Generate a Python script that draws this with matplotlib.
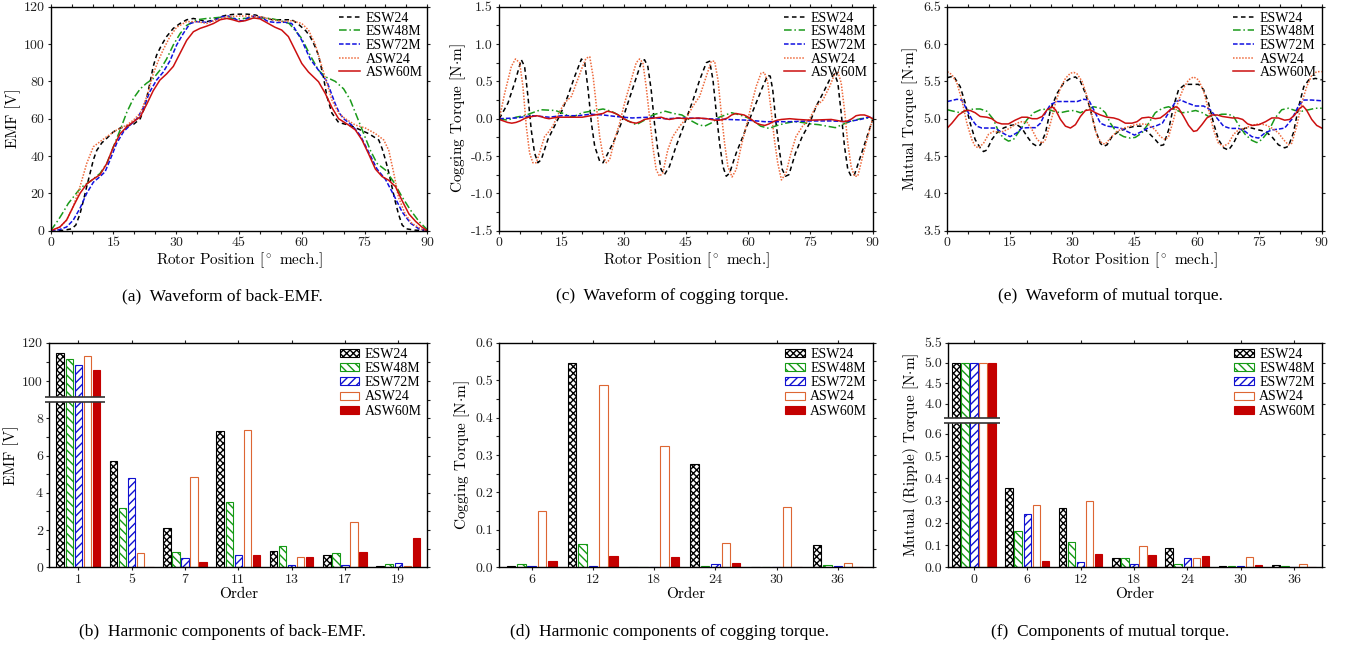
import numpy as np
import matplotlib
matplotlib.use('Agg')
import matplotlib.pyplot as plt
from matplotlib.patches import Rectangle
from matplotlib.ticker import FormatStrFormatter, MultipleLocator

plt.rcParams['font.family'] = 'cmr10'
plt.rcParams['mathtext.fontset'] = 'cm'
plt.rcParams['axes.unicode_minus'] = False
plt.rcParams['axes.formatter.use_mathtext'] = True
plt.rcParams['hatch.linewidth'] = 1.0

SERIES = ['ESW24', 'ESW48M', 'ESW72M', 'ASW24', 'ASW60M']

# ---- back-EMF waveforms [V] vs rotor position [deg mech.]
emf_esw24_pos = [0, 3, 5, 6, 7, 7.8, 8.6, 9.4, 10.2, 11, 12.2, 13.4, 15, 16.6, 18.2, 19.8, 21.4, 22.2, 23, 23.7,
                 24.5, 25.3, 26.5, 27.7, 29.3, 30.9, 32.5, 34.1, 35.7, 37.3, 38.9, 40.5, 42.1, 43.7, 45, 47, 49, 51, 53, 55,
                 57.6, 59, 60, 61, 62, 63, 64, 64.6, 65.2, 66, 67.2, 68.8, 70.5, 72, 74, 76, 78.4, 79.2, 80, 80.8,
                 81.5, 82.3, 83.1, 84, 85, 87, 90]
emf_esw24_val = [0, 0.2, 1, 3, 9, 16, 23.6, 30.7, 38, 43, 47, 49.5, 53, 55, 56, 57, 60, 64.6, 71.8, 79,
                 88, 94, 99.5, 104, 108.4, 111, 113, 113.7, 112.9, 112, 112.9, 114.6, 115.5, 115.9, 116, 116, 115.5, 114, 113, 113,
                 113, 111, 109, 107, 104, 99.5, 94, 88, 82, 72, 63, 58, 57, 56, 54, 52, 48.6, 44, 38, 31,
                 24, 16, 9, 3, 1, 0.3, 0]
emf_esw48m_pos = [0, 1.8, 3, 4.2, 5.4, 6.6, 7.8, 9.8, 11.8, 13.4, 15, 16.6, 18.2, 19.8, 21.4, 22.9, 24.5, 26.1, 27.7, 29.3,
                  30.9, 32.5, 34.9, 37.3, 40.5, 43.7, 45, 48, 51, 53, 55, 57, 60, 62, 64, 65.6, 68, 70, 71.6, 73.2,
                  74.8, 76.4, 78, 80, 82, 84, 86, 88, 90]
emf_esw48m_val = [0, 5.7, 10, 14.6, 18, 21.4, 24, 27, 30.7, 36, 45, 54, 63.5, 71, 76, 79, 81.5, 86, 92, 99.5,
                  105.5, 110, 113, 113.7, 114.3, 113.7, 113.5, 114, 114, 113.5, 112.5, 111, 103, 94, 86, 82.5, 80, 76, 70, 61,
                  52, 43, 36, 32.5, 26, 18, 11, 5, 0.5]
emf_esw72m_pos = [0, 2, 3.8, 5.4, 7, 8.6, 10.2, 11.8, 13, 14.2, 15.8, 17.4, 19, 20.6, 22.2, 23.7, 25.3, 26.9, 28.5, 30.1,
                  31.7, 33.3, 34.9, 37.3, 38.9, 40.9, 42.5, 44, 45, 46, 47.5, 49, 50.5, 52, 54, 56, 57.6, 60, 62, 64,
                  66, 67, 68, 69, 70, 72, 74, 76, 78, 80, 82, 84, 86, 88, 90]
emf_esw72m_val = [0, 0.5, 2, 5.7, 12, 20, 26, 29, 31.6, 38, 47, 53, 56.6, 60, 66, 74.5, 80.7, 85, 91, 99.5,
                  105.7, 111, 112, 111.6, 112.5, 114.6, 115, 113.5, 112.5, 112.5, 114.5, 115, 114, 112, 111.5, 111.7, 111, 102, 92, 86,
                  80, 74, 68, 63, 60, 56.5, 51, 42, 33, 27.5, 19, 10, 4, 1, 0]
emf_asw24_pos = [0, 2, 3.8, 5.4, 7, 8.6, 10.2, 11.8, 13.4, 15.8, 18.2, 19.8, 21.4, 23, 24.5, 25.7, 26.9, 28.5, 30.1, 32.5,
                 34.9, 37.3, 39.7, 42.1, 45, 48, 50.5, 53, 55.5, 57.6, 60, 61.6, 63.2, 64.4, 65.6, 67.2, 68.8, 70.4, 72.8, 75.2,
                 77.6, 79.6, 80.8, 82, 83.1, 84.7, 86.3, 88.7, 90]
emf_asw24_val = [0, 1.5, 5.7, 13, 23.6, 36, 45, 47.7, 50.4, 54, 56.6, 59.3, 63, 72, 84, 91, 97, 104, 109, 112,
                 112, 111, 113, 114.6, 115, 115, 114.5, 113, 112, 112.5, 111, 107.5, 100, 91, 82, 70, 63, 60, 56.6, 55,
                 52, 48.6, 43, 30.7, 18, 9, 4, 0.7, 0]
emf_asw60m_pos = [0, 2.2, 3.8, 5.4, 7, 8.6, 10.2, 11.8, 13.4, 15, 16.6, 18.2, 19.8, 21.4, 23, 24.5, 26.1, 27.7, 29.3, 30.9,
                  32.5, 34.1, 35.7, 37.3, 38.9, 40.5, 42.1, 43.5, 45, 46.5, 48.5, 50, 52, 53.6, 55.2, 56.8, 58.4, 60, 61.6, 64,
                  65.6, 67.2, 68.8, 71.2, 72.8, 74.4, 76, 77.6, 79.2, 80.8, 82.4, 84, 85.6, 87.2, 88.7, 90]
emf_asw60m_val = [0, 2, 5.7, 13, 20, 25, 27.7, 30, 36, 45, 52, 55.7, 58.4, 61, 68, 75, 80.7, 84, 88, 95,
                  102, 106.6, 108.4, 109.6, 111, 113, 113.7, 113, 112, 112.5, 114, 113.5, 111, 109, 107.5, 104, 96.8, 89.6, 85, 79.8,
                  73.6, 66, 60, 56.6, 54, 48.6, 41, 33, 29, 27, 23.6, 16, 9, 5, 2, 0]

# ---- cogging torque waveforms [N.m]
cog_esw24_pos = [0, 2.1, 3.7, 5.3, 6.1, 6.9, 7.7, 8.5, 9.3, 10.1, 11.7, 13.3, 14.9, 16.5, 18.2, 19.8, 20.6, 21.4, 22.2, 23,
                 24.2, 25, 26.2, 27.8, 29.4, 31, 32.6, 34.2, 35, 35.8, 36.6, 37.4, 38.2, 39, 39.8, 41, 42.6, 44.3, 45, 46.7,
                 48.3, 49.9, 50.7, 51.5, 52.3, 53.1, 53.9, 54.7, 55.5, 57.1, 58.7, 60.3, 61.9, 63.5, 64.7, 65.3, 65.9, 66.7, 67.5, 68.2,
                 69, 69.8, 71.4, 73, 74.8, 76.4, 78, 79.6, 80.8, 81.6, 82.4, 83.2, 84, 84.8, 85.6, 86.8, 88.4, 90]
cog_esw24_val = [0, 0.21, 0.48, 0.79, 0.7, 0.3, -0.15, -0.46, -0.59, -0.55, -0.28, -0.1, 0.08, 0.3, 0.57, 0.8, 0.75, 0.39, -0.06, -0.37,
                 -0.57, -0.59, -0.46, -0.28, -0.06, 0.21, 0.48, 0.75, 0.79, 0.7, 0.39, -0.06, -0.42, -0.68, -0.75, -0.64, -0.37, -0.12, -0.01, 0.25,
                 0.52, 0.75, 0.77, 0.52, 0.08, -0.33, -0.64, -0.77, -0.73, -0.46, -0.24, -0.01, 0.21, 0.43, 0.58, 0.57, 0.39, -0.06, -0.42, -0.68,
                 -0.77, -0.75, -0.46, -0.24, -0.06, 0.17, 0.34, 0.52, 0.6, 0.48, 0.08, -0.37, -0.68, -0.77, -0.75, -0.55, -0.28, -0.01]
cog_esw48m_pos = [0, 2, 4, 6, 8, 10, 13.5, 15, 17, 18, 20, 22, 25, 27, 29, 31, 33, 35, 37, 40,
                  42, 44, 46, 48, 49.5, 51, 53, 56, 58, 60, 62, 63, 65, 67, 69, 71, 73, 75, 77, 79,
                  81, 83, 85, 87, 89, 90]
cog_esw48m_val = [0, -0.02, 0.02, 0.04, 0.08, 0.12, 0.11, 0.08, 0.03, 0.03, 0.08, 0.1, 0.13, 0.1, 0.04, -0.03, -0.08, -0.02, 0.05, 0.1,
                  0.07, 0.05, -0.02, -0.08, -0.1, -0.06, 0.02, 0.08, 0.05, 0.01, -0.06, -0.1, -0.13, -0.09, -0.06, -0.04, -0.05, -0.07, -0.08, -0.1,
                  -0.12, -0.07, -0.03, 0.0, 0.01, 0.0]
cog_esw72m_pos = [0, 4, 8, 10, 12, 15, 19, 22, 25, 28, 32, 36, 40, 45, 50, 55, 60, 64, 70, 75,
                  80, 84, 87, 89, 90]
cog_esw72m_val = [0, 0.01, 0.04, 0.03, 0.02, 0.04, 0.04, 0.06, 0.05, 0.03, 0.01, 0.02, 0.0, 0.01, 0.0, -0.01, -0.02, -0.04, -0.04, -0.03,
                  -0.03, -0.04, -0.01, 0.02, 0.02]
cog_asw24_pos = [0, 1.3, 2.9, 3.9, 4.9, 5.7, 6.5, 7.3, 8.1, 8.9, 9.7, 10.9, 11.7, 12.9, 14.1, 15.7, 17.4, 18.6, 19.8, 20.9,
                 21.8, 22.6, 23.4, 24.2, 25, 25.8, 26.6, 27.8, 29, 30.2, 31.8, 33, 33.8, 34.6, 35.4, 36.2, 37, 37.8, 38.6, 39.4,
                 40.6, 41.8, 43.5, 45, 46.7, 48.3, 49.9, 51.1, 51.9, 52.7, 53.5, 54.3, 55.1, 56.1, 57.1, 58.3, 59.5, 60.7, 61.9, 63.1,
                 63.9, 64.7, 65.5, 66.3, 67.1, 68, 69.1, 70.3, 71.5, 73.1, 74.7, 76.4, 78, 79.6, 80.8, 81.6, 82.4, 83.2, 84, 84.8,
                 85.6, 86.4, 87.6, 88.8, 90]
cog_asw24_val = [0, 0.34, 0.7, 0.8, 0.75, 0.43, -0.1, -0.46, -0.59, -0.59, -0.46, -0.24, -0.19, -0.1, 0.05, 0.21, 0.3, 0.48, 0.66, 0.81,
                 0.83, 0.57, 0.17, -0.24, -0.5, -0.59, -0.55, -0.28, -0.06, 0.21, 0.52, 0.75, 0.8, 0.75, 0.43, 0.03, -0.37, -0.68, -0.77, -0.73,
                 -0.42, -0.24, -0.1, 0.0, 0.17, 0.3, 0.57, 0.77, 0.77, 0.52, 0.08, -0.33, -0.64, -0.78, -0.68, -0.37, -0.1, 0.17, 0.43, 0.61,
                 0.62, 0.48, 0.12, -0.28, -0.59, -0.82, -0.73, -0.46, -0.24, -0.1, -0.01, 0.17, 0.25, 0.43, 0.59, 0.63, 0.48, 0.12, -0.33, -0.64,
                 -0.77, -0.77, -0.5, -0.24, 0.0]
cog_asw60m_pos = [0, 1, 2, 3, 4, 5, 6, 7, 8, 9, 10, 11, 12, 14, 16, 20, 22, 24, 25, 26,
                  27, 28, 29, 30, 31, 32, 33, 34, 35, 36, 39, 40, 41, 43, 45, 48, 50, 52, 53, 54,
                  55, 56, 57, 58, 59, 60, 61, 62, 63, 64, 65, 66, 67, 68, 70, 72, 75, 80, 82, 83,
                  84, 85, 86, 87, 88, 89, 90]
cog_asw60m_val = [-0.01, -0.03, -0.05, -0.06, -0.05, -0.03, 0.0, 0.02, 0.03, 0.04, 0.03, 0.01, 0.0, 0.02, 0.02, 0.02, 0.04, 0.06, 0.07, 0.1,
                  0.09, 0.07, 0.04, 0.0, -0.03, -0.05, -0.06, -0.04, -0.01, 0.0, 0.02, 0.0, -0.01, 0.01, 0.0, 0.01, 0.0, -0.02, -0.02, -0.01,
                  0.01, 0.05, 0.07, 0.06, 0.05, 0.02, -0.02, -0.06, -0.08, -0.09, -0.07, -0.04, -0.02, -0.01, 0.0, -0.01, -0.02, -0.01, -0.03, -0.04,
                  -0.03, 0.0, 0.04, 0.05, 0.05, 0.03, 0.0]

# ---- mutual torque waveforms [N.m]
mut_esw24_pos = [0, 1.5, 3.1, 4.3, 5.5, 6.7, 7.9, 8.7, 9.5, 10.7, 11.9, 13.5, 15.1, 16.7, 17.9, 19.2, 20.4, 21.6, 22.4, 23.6,
                 24.8, 26.4, 28, 29.6, 30.8, 32, 33.2, 34.4, 35.6, 36.8, 37.6, 38.4, 39.6, 41.2, 43.2, 45.2, 46.8, 48.4, 50, 51.2,
                 52, 53.2, 54.4, 55.6, 57.2, 58.8, 60.4, 61.6, 62.8, 64, 65.2, 66.4, 67.6, 68.8, 70, 71.6, 73.2, 74.8, 76.4, 78,
                 79.6, 81.1, 82, 83.2, 84.5, 85.7, 86.9, 88.5, 90]
mut_esw24_val = [5.55, 5.57, 5.43, 5.21, 4.94, 4.72, 4.61, 4.56, 4.58, 4.72, 4.81, 4.875, 4.91, 4.92, 4.875, 4.76, 4.67, 4.63, 4.65, 4.81,
                 5.12, 5.34, 5.48, 5.54, 5.56, 5.5, 5.34, 5.12, 4.85, 4.67, 4.63, 4.65, 4.76, 4.83, 4.875, 4.9, 4.9, 4.81, 4.72, 4.64,
                 4.65, 4.85, 5.17, 5.39, 5.46, 5.46, 5.46, 5.39, 5.21, 4.94, 4.72, 4.61, 4.58, 4.67, 4.81, 4.875, 4.875, 4.85, 4.83, 4.76,
                 4.65, 4.61, 4.63, 4.81, 5.17, 5.43, 5.52, 5.54, 5.52]
mut_esw48m_pos = [0, 1.5, 3.1, 4.7, 6.3, 7.9, 9.5, 11.1, 12.3, 13.5, 14.7, 15.9, 17.5, 19.2, 20.8, 22.4, 24, 25.6, 27.2, 28.8,
                  30.4, 32, 33.6, 35.2, 36.8, 38, 39.2, 40.8, 42.4, 44, 45.2, 46.8, 48.4, 50, 51.7, 53.2, 54.9, 56.5, 58, 59.7,
                  61.3, 62.8, 64.5, 66, 67.6, 68.8, 70, 71.6, 73.2, 74.4, 75.6, 77.2, 78.8, 80.4, 82, 83.6, 85.2, 86.9, 88.5, 90]
mut_esw48m_val = [5.12, 5.1, 5.08, 5.11, 5.13, 5.13, 5.1, 4.99, 4.83, 4.74, 4.7, 4.72, 4.85, 4.99, 5.08, 5.12, 5.13, 5.1, 5.08, 5.1,
                  5.11, 5.08, 5.12, 5.16, 5.14, 5.08, 4.94, 4.81, 4.76, 4.74, 4.75, 4.81, 4.94, 5.08, 5.14, 5.16, 5.12, 5.08, 5.09, 5.11,
                  5.08, 5.03, 5.04, 5.06, 5.06, 5.03, 4.92, 4.79, 4.71, 4.68, 4.72, 4.83, 5.01, 5.12, 5.14, 5.11, 5.1, 5.12, 5.14, 5.14]
mut_esw72m_pos = [0, 2.3, 3.5, 4.7, 5.9, 7.1, 8.3, 9.9, 11.5, 12.7, 13.9, 15.1, 16.7, 17.9, 19.6, 21.2, 22.4, 23.6, 24.8, 26.4,
                  28.8, 31.2, 32.8, 34, 35.2, 36.8, 38.4, 40, 41.6, 43.2, 45, 46.8, 48.4, 50, 51.7, 53.2, 54.9, 56.1, 57.7, 59.7,
                  61.6, 63.2, 64.8, 66.4, 68, 70, 71.6, 73.2, 74.8, 76.4, 78, 79.6, 81.1, 82.8, 84.4, 85.7, 87.6, 90]
mut_esw72m_val = [5.23, 5.26, 5.25, 5.12, 4.99, 4.9, 4.875, 4.875, 4.875, 4.83, 4.79, 4.76, 4.81, 4.875, 4.88, 4.88, 4.94, 5.08, 5.19, 5.23,
                  5.23, 5.23, 5.26, 5.25, 5.12, 4.94, 4.9, 4.89, 4.875, 4.83, 4.78, 4.83, 4.88, 4.9, 4.94, 5.08, 5.23, 5.25, 5.21, 5.17,
                  5.17, 5.12, 5.01, 4.9, 4.87, 4.87, 4.83, 4.76, 4.74, 4.81, 4.85, 4.86, 4.875, 4.99, 5.17, 5.25, 5.25, 5.24]
mut_asw24_pos = [0, 1.1, 2.3, 3.5, 4.7, 5.9, 6.7, 7.5, 8.7, 9.9, 11.1, 12.3, 13.5, 15.1, 16.7, 17.9, 19.2, 20.4, 21.6, 22.8,
                 23.6, 24.8, 26, 27.2, 28.4, 29.6, 30.4, 31.2, 32.4, 33.6, 34.8, 36, 37.2, 38, 39.2, 40.8, 42.4, 44, 45.2, 46.8,
                 48.4, 50, 51.2, 52.4, 53.2, 54.4, 55.6, 56.8, 58, 59.2, 60.4, 61.6, 62.8, 64, 65.2, 66.4, 67.6, 68.8, 70, 71.6,
                 73.2, 74.8, 76.4, 78, 79.6, 80.8, 82, 82.8, 84, 85.2, 86.4, 87.6, 88.8, 90]
mut_asw24_val = [5.63, 5.59, 5.48, 5.25, 4.94, 4.72, 4.63, 4.61, 4.67, 4.79, 4.83, 4.82, 4.83, 4.875, 4.94, 4.96, 4.95, 4.85, 4.72, 4.67,
                 4.72, 4.94, 5.21, 5.41, 5.54, 5.61, 5.62, 5.6, 5.5, 5.3, 5.03, 4.76, 4.67, 4.66, 4.74, 4.83, 4.875, 4.9, 4.92, 4.93,
                 4.92, 4.85, 4.76, 4.72, 4.76, 4.99, 5.25, 5.41, 5.52, 5.56, 5.52, 5.37, 5.12, 4.85, 4.67, 4.63, 4.67, 4.79, 4.85, 4.875,
                 4.91, 4.93, 4.92, 4.875, 4.81, 4.72, 4.65, 4.67, 4.9, 5.21, 5.43, 5.58, 5.63, 5.63]
mut_asw60m_pos = [0, 1.1, 2.7, 4.3, 5.5, 6.7, 7.9, 9.5, 10.7, 11.9, 13.1, 14.7, 16.3, 17.9, 19.2, 20.4, 21.6, 22.8, 24, 25.2,
                  26, 27.2, 28.4, 29.6, 30.8, 32, 33.2, 34.4, 35.6, 36.8, 38.4, 40, 41.2, 42.8, 44.4, 45.6, 46.8, 48.4, 50, 51.2,
                  52.4, 53.6, 54.9, 55.6, 56.8, 58, 59.2, 60, 61.2, 62.4, 63.6, 64.9, 66.1, 67.3, 68.5, 69.8, 71, 72.2, 73.4, 74.9,
                  76.5, 78, 79.6, 81.1, 82.3, 83.5, 84.7, 85.5, 86.3, 87.6, 88.8, 90]
mut_asw60m_val = [4.875, 4.94, 5.05, 5.11, 5.11, 5.08, 5.03, 5.02, 5.0, 4.95, 4.93, 4.93, 4.98, 5.02, 5.02, 5.0, 5.0, 5.03, 5.12, 5.16,
                  5.12, 4.99, 4.9, 4.875, 4.92, 5.03, 5.11, 5.12, 5.08, 5.05, 5.02, 5.01, 4.99, 4.94, 4.94, 4.96, 5.01, 5.02, 5.0, 5.01,
                  5.06, 5.12, 5.16, 5.14, 5.03, 4.91, 4.83, 4.84, 4.92, 5.01, 5.05, 5.05, 5.03, 5.02, 5.01, 5.01, 4.99, 4.93, 4.91, 4.92,
                  4.96, 5.01, 5.01, 4.98, 4.99, 5.05, 5.14, 5.17, 5.12, 4.99, 4.91, 4.875]

# ---- harmonic amplitudes
emf_orders = [1, 5, 7, 11, 13, 17, 19]
emf_h_esw24 = [114.8, 5.68, 2.09, 7.34, 0.87, 0.64, 0.09]
emf_h_esw48m = [111.7, 3.16, 0.80, 3.48, 1.16, 0.77, 0.20]
emf_h_esw72m = [108.6, 4.77, 0.48, 0.64, 0.12, 0.14, 0.25]
emf_h_asw24 = [112.8, 0.75, 4.87, 7.36, 0.54, 2.41, 0.05]
emf_h_asw60m = [105.7, 0.03, 0.30, 0.64, 0.57, 0.82, 1.57]

cog_orders = [6, 12, 18, 24, 30, 36]
cog_h_esw24 = [0.003, 0.546, 0.001, 0.276, 0.001, 0.059]
cog_h_esw48m = [0.010, 0.062, 0.001, 0.003, 0.0005, 0.005]
cog_h_esw72m = [0.003, 0.004, 0.0005, 0.008, 0.001, 0.004]
cog_h_asw24 = [0.149, 0.487, 0.325, 0.065, 0.162, 0.011]
cog_h_asw60m = [0.017, 0.029, 0.028, 0.012, 0.001, 0.002]

mut_orders = [0, 6, 12, 18, 24, 30, 36]
mut_h_esw24 = [5.0, 0.355, 0.266, 0.042, 0.088, 0.004, 0.010]
mut_h_esw48m = [5.0, 0.163, 0.112, 0.042, 0.016, 0.004, 0.006]
mut_h_esw72m = [5.0, 0.240, 0.024, 0.016, 0.042, 0.006, 0.002]
mut_h_asw24 = [5.0, 0.278, 0.298, 0.097, 0.042, 0.048, 0.014]
mut_h_asw60m = [5.0, 0.028, 0.061, 0.055, 0.049, 0.009, 0.003]

LINE_STYLE = {
    'ESW24': dict(color='black', dashes=(3, 2.2)),
    'ESW48M': dict(color='#1a9a1a', dashes=(5, 1.8, 1, 1.8)),
    'ESW72M': dict(color='#1010e0', dashes=(3, 1.3)),
    'ASW24': dict(color='#ee6a3c', dashes=(1, 1)),
    'ASW60M': dict(color='#cc1010', linestyle='-'),
}
BAR_STYLE = {
    'ESW24': dict(facecolor='white', edgecolor='black', hatch='xxxxx'),
    'ESW48M': dict(facecolor='white', edgecolor='#159a15', hatch='\\\\\\\\'),
    'ESW72M': dict(facecolor='white', edgecolor='#1010d0', hatch='////'),
    'ASW24': dict(facecolor='white', edgecolor='#dd6633'),
    'ASW60M': dict(facecolor='#c40000', edgecolor='#c40000'),
}
LEGEND_FONT = {'family': 'Liberation Serif', 'size': 10}
W, H = 1345, 650


def axes_at(fig, left, top, right, bottom):
    # pixel box -> figure fraction
    return fig.add_axes([left / W, 1 - bottom / H, (right - left) / W, (bottom - top) / H])


def style(ax):
    ax.tick_params(which='both', direction='out', top=True, right=True,
                   length=2.5, width=0.8, labelsize=10, pad=2, colors='#222222')
    for sp in ax.spines.values():
        sp.set_linewidth(1.0)


def waveform(ax, curves, ylim, ystep, yminor, yfmt, ylabel):
    for name in SERIES:
        pos, val = curves[name]
        ax.plot(pos, val, lw=1.1, label=name, **LINE_STYLE[name])
    ax.set_xlim(0, 90)
    ax.set_ylim(*ylim)
    ax.xaxis.set_major_locator(MultipleLocator(15))
    ax.xaxis.set_minor_locator(MultipleLocator(5))
    ax.yaxis.set_major_locator(MultipleLocator(ystep))
    if yminor:
        ax.yaxis.set_minor_locator(MultipleLocator(yminor))
    ax.xaxis.set_major_formatter(FormatStrFormatter('%d'))
    ax.yaxis.set_major_formatter(FormatStrFormatter(yfmt))
    ax.set_xlabel(r'Rotor Position [$^\circ$ mech.]', fontsize=11, labelpad=1)
    ax.set_ylabel(ylabel, fontsize=11, labelpad=2)
    style(ax)
    ax.legend(loc='upper right', frameon=False, prop=LEGEND_FONT, handlelength=1.5,
              labelspacing=0.05, borderaxespad=0.15, handletextpad=0.4, borderpad=0.2)


def harmonics(ax, orders, heights, xlim):
    idx = np.arange(len(orders))
    for k, name in enumerate(SERIES):
        ax.bar(idx + (k - 2) * 0.17, heights[name], width=0.14, lw=0.8,
               label=name, zorder=2, **BAR_STYLE[name])
    ax.set_xticks(idx)
    ax.set_xticklabels([str(o) for o in orders])
    ax.set_xlim(*xlim)
    ax.set_xlabel('Order', fontsize=11, labelpad=1)
    style(ax)
    ax.legend(loc='upper right', frameon=False, prop=LEGEND_FONT, handlelength=1.4,
              handleheight=0.5, labelspacing=0.08, borderaxespad=0.2, handletextpad=0.4, borderpad=0.2)


def broken_scale(ax, v_knots, t_knots):
    v = np.asarray(v_knots, float)
    t = np.asarray(t_knots, float)
    ax.set_yscale('function', functions=(lambda x: np.interp(x, v, t), lambda y: np.interp(y, t, v)))


def draw_break(ax, y_lo, y_hi, x_end):
    # white band with an edge line on each side, axes fraction coordinates
    ax.add_patch(Rectangle((-0.012, y_lo), x_end + 0.012, y_hi - y_lo, transform=ax.transAxes,
                           facecolor='white', edgecolor='none', clip_on=False, zorder=5))
    for y in (y_lo, y_hi):
        ax.plot([-0.012, x_end], [y, y], transform=ax.transAxes, color='#333333',
                lw=1.2, clip_on=False, zorder=6, solid_capstyle='butt')


fig = plt.figure(figsize=(W / 100, H / 100), dpi=100)

# (a) back-EMF waveform
ax = axes_at(fig, 50.7, 6.7, 427.3, 230.7)
waveform(ax, {'ESW24': (emf_esw24_pos, emf_esw24_val), 'ESW48M': (emf_esw48m_pos, emf_esw48m_val),
              'ESW72M': (emf_esw72m_pos, emf_esw72m_val), 'ASW24': (emf_asw24_pos, emf_asw24_val),
              'ASW60M': (emf_asw60m_pos, emf_asw60m_val)},
         (0, 120), 20, None, '%d', 'EMF [V]')

# (c) cogging torque waveform
ax = axes_at(fig, 499.3, 6.7, 872.7, 230.7)
waveform(ax, {'ESW24': (cog_esw24_pos, cog_esw24_val), 'ESW48M': (cog_esw48m_pos, cog_esw48m_val),
              'ESW72M': (cog_esw72m_pos, cog_esw72m_val), 'ASW24': (cog_asw24_pos, cog_asw24_val),
              'ASW60M': (cog_asw60m_pos, cog_asw60m_val)},
         (-1.5, 1.5), 0.5, 0.25, '%.1f', r'Cogging Torque [N$\cdot$m]')

# (e) mutual torque waveform
ax = axes_at(fig, 947.3, 6.7, 1321.7, 230.7)
waveform(ax, {'ESW24': (mut_esw24_pos, mut_esw24_val), 'ESW48M': (mut_esw48m_pos, mut_esw48m_val),
              'ESW72M': (mut_esw72m_pos, mut_esw72m_val), 'ASW24': (mut_asw24_pos, mut_asw24_val),
              'ASW60M': (mut_asw60m_pos, mut_asw60m_val)},
         (3.5, 6.5), 0.5, None, '%.1f', r'Mutual Torque [N$\cdot$m]')

# (b) back-EMF harmonics, broken y axis
ax = axes_at(fig, 49.3, 342.6, 427.3, 567.3)
broken_scale(ax, [-10, 0, 9.1, 91.9, 120, 400], [-10, 0, 9.1, 9.15, 12.06, 12.06 + 280 * 0.1037])
harmonics(ax, emf_orders, {'ESW24': emf_h_esw24, 'ESW48M': emf_h_esw48m, 'ESW72M': emf_h_esw72m,
                           'ASW24': emf_h_asw24, 'ASW60M': emf_h_asw60m}, (-0.545, 6.545))
ax.set_ylim(0, 120)
ax.set_yticks([0, 2, 4, 6, 8, 100, 120])
ax.set_yticks([1, 3, 5, 7, 9, 110], minor=True)
ax.yaxis.set_major_formatter(FormatStrFormatter('%d'))
ax.set_ylabel('EMF [V]', fontsize=11, labelpad=2)
draw_break(ax, 0.736, 0.758, 0.147)

# (d) cogging torque harmonics
ax = axes_at(fig, 499.3, 342.6, 872.7, 567.3)
harmonics(ax, cog_orders, {'ESW24': cog_h_esw24, 'ESW48M': cog_h_esw48m, 'ESW72M': cog_h_esw72m,
                           'ASW24': cog_h_asw24, 'ASW60M': cog_h_asw60m}, (-0.53, 5.57))
ax.set_ylim(0, 0.6)
ax.yaxis.set_major_locator(MultipleLocator(0.1))
ax.yaxis.set_minor_locator(MultipleLocator(0.05))
ax.yaxis.set_major_formatter(FormatStrFormatter('%.1f'))
ax.set_ylabel(r'Cogging Torque [N$\cdot$m]', fontsize=11, labelpad=2)

# (f) mutual torque components, broken y axis
ax = axes_at(fig, 948.3, 342.6, 1321.7, 567.3)
broken_scale(ax, [-1, 0, 0.655, 3.7, 5.5, 20], [-1, 0, 0.655, 0.6813, 1.0103, 1.0103 + 14.5 * 0.1828])
harmonics(ax, mut_orders, {'ESW24': mut_h_esw24, 'ESW48M': mut_h_esw48m, 'ESW72M': mut_h_esw72m,
                           'ASW24': mut_h_asw24, 'ASW60M': mut_h_asw60m}, (-0.48, 6.52))
ax.set_ylim(0, 5.5)
ax.set_yticks([0, 0.1, 0.2, 0.3, 0.4, 0.5, 0.6, 4.0, 4.5, 5.0, 5.5])
ax.yaxis.set_major_formatter(FormatStrFormatter('%.1f'))
ax.set_ylabel(r'Mutual (Ripple) Torque [N$\cdot$m]', fontsize=11, labelpad=2)
draw_break(ax, 0.644, 0.665, 0.138)

captions = [
    (222, 296, '(a)  Waveform of back-EMF.'),
    (672, 296, '(c)  Waveform of cogging torque.'),
    (1110, 296, '(e)  Waveform of mutual torque.'),
    (222, 632, '(b)  Harmonic components of back-EMF.'),
    (670, 632, '(d)  Harmonic components of cogging torque.'),
    (1110, 632, '(f)  Components of mutual torque.'),
]
for x, y, s in captions:
    fig.text(x / W, 1 - y / H, s, ha='center', va='center', family='Liberation Serif', size=12.5)

fig.savefig('out.png', dpi=100)
